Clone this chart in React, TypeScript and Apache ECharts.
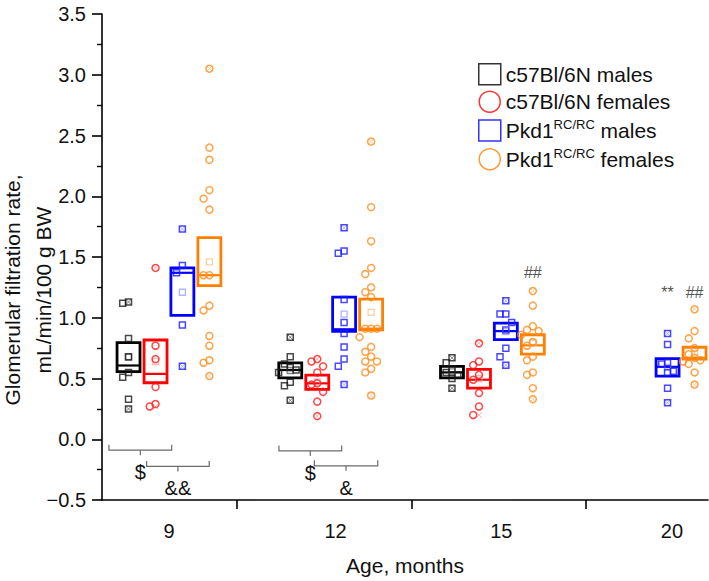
import React, { useEffect, useRef } from 'react';
import * as echarts from 'echarts';

// ---------- data ----------
const ageGroups = ['9', '12', '15', '20'];
const seriesNames = ['c57Bl/6N males', 'c57Bl/6N females', 'Pkd1RC/RC males', 'Pkd1RC/RC females'];

// individual animals, per age group (9, 12, 15, 20 months)
const wtMales = [
  [1.13, 1.12, 0.83, 0.68, 0.55, 0.51, 0.33, 0.25],
  [0.84, 0.68, 0.62, 0.59, 0.57, 0.55, 0.47, 0.44, 0.32],
  [0.67, 0.63, 0.58, 0.55, 0.53, 0.5, 0.42],
  [],
];
const wtFemales = [
  [1.41, 0.77, 0.66, 0.43, 0.29, 0.27],
  [0.66, 0.64, 0.6, 0.55, 0.46, 0.45, 0.39, 0.31, 0.19],
  [0.79, 0.64, 0.61, 0.53, 0.49, 0.38, 0.27, 0.2],
  [],
];
const pkdMales = [
  [1.73, 1.43, 1.37, 0.94, 0.6],
  [1.74, 1.55, 1.53, 1.15, 0.96, 0.87, 0.76, 0.66, 0.6, 0.45],
  [1.14, 1.03, 1.03, 0.96, 0.9, 0.75, 0.68, 0.61],
  [0.87, 0.78, 0.63, 0.62, 0.56, 0.55, 0.42, 0.3],
];
const pkdFemales = [
  [3.05, 2.4, 2.3, 2.05, 1.98, 1.89, 1.35, 1.35, 1.1, 1.06, 0.85, 0.77, 0.65, 0.63, 0.52],
  [2.45, 1.91, 1.63, 1.41, 1.36, 1.25, 1.21, 1.17, 0.91, 0.91, 0.91, 0.84, 0.76, 0.72, 0.68, 0.64, 0.64, 0.58, 0.55, 0.36],
  [1.22, 1.1, 0.93, 0.9, 0.89, 0.86, 0.8, 0.77, 0.68, 0.65, 0.55, 0.53, 0.42, 0.33],
  [1.07, 0.89, 0.83, 0.75, 0.7, 0.67, 0.65, 0.64, 0.62, 0.55, 0.45],
];

// box = mean ± SEM, line = median, faint square = mean
const wtMalesMean = [0.676, 0.566, 0.555, null];
const wtMalesLow = [0.557, 0.505, 0.505, null];
const wtMalesHigh = [0.795, 0.628, 0.6, null];
const wtMalesMedian = [0.607, 0.57, 0.55, null];

const wtFemalesMean = [0.64, 0.47, 0.5, null];
const wtFemalesLow = [0.465, 0.41, 0.42, null];
const wtFemalesHigh = [0.817, 0.527, 0.575, null];
const wtFemalesMedian = [0.538, 0.46, 0.49, null];

const pkdMalesMean = [1.21, 1.03, 0.885, 0.592];
const pkdMalesLow = [1.02, 0.888, 0.82, 0.52];
const pkdMalesHigh = [1.41, 1.17, 0.956, 0.664];
const pkdMalesMedian = [1.37, 0.905, 0.89, 0.596];

const pkdFemalesMean = [1.46, 1.044, 0.79, 0.708];
const pkdFemalesLow = [1.265, 0.9, 0.7, 0.66];
const pkdFemalesHigh = [1.66, 1.153, 0.86, 0.757];
const pkdFemalesMedian = [1.35, 0.91, 0.773, 0.67];

// significance marks above columns: age group, subgroup, y
const markTexts = ['##', '**', '##'];
const markGroup = [2, 3, 3];
const markSub = [3, 2, 3];
const markY = [1.37, 1.205, 1.205];

// brackets below the data: from / to (x index), y, label
const bracketFrom = [-0.371, -0.138, 0.68, 0.899];
const bracketTo = [0.017, 0.249, 1.068, 1.291];
const bracketY = [-0.09, -0.224, -0.096, -0.219];
const bracketLabels = ['$', '&&', '$', '&'];

const yTicks = { min: -0.5, max: 3.5, interval: 0.5 };
const xLabelAt = [0, 1.03, 2.055, 3.11];
const xSeparators = [0.42, 1.5, 2.58];

// ---------- styling ----------
const FONT = '"Liberation Sans", Arial, sans-serif';
const pointColors = ['#1a1a1a', '#ff1a1a', '#1a1aff', '#ff8c1a'];
const boxColors = ['#000000', '#ff0000', '#0000ff', '#ff8000'];
const faintColors = ['#666666', '#ffa0a0', '#a0a0ff', '#ffc38a'];
const subOffsets = [-0.25, -0.083, 0.083, 0.25];
const BOX_W = 0.142;

const allData = [wtMales, wtFemales, pkdMales, pkdFemales];
const allMean = [wtMalesMean, wtFemalesMean, pkdMalesMean, pkdFemalesMean];
const allLow = [wtMalesLow, wtFemalesLow, pkdMalesLow, pkdFemalesLow];
const allHigh = [wtMalesHigh, wtFemalesHigh, pkdMalesHigh, pkdFemalesHigh];
const allMedian = [wtMalesMedian, wtFemalesMedian, pkdMalesMedian, pkdFemalesMedian];

function swarm(values: number[], center: number): number[][] {
  const step = 0.036;
  const thr = 0.075;
  const placed: { v: number; k: number }[] = [];
  const out: number[][] = [];
  const order = values.map((_, i) => i).sort((a, b) => values[b] - values[a]);
  for (const i of order) {
    const v = values[i];
    for (const k of [0, -1, 1, -2, 2, -3, 3, -4, 4]) {
      if (!placed.some((p) => p.k === k && Math.abs(p.v - v) < thr)) {
        placed.push({ v, k });
        out.push([center + k * step, v]);
        break;
      }
    }
  }
  return out;
}

function buildOption() {
  const series: any[] = [];
  for (let s = 0; s < 4; s++) {
    const isSquare = s % 2 === 0;
    const points: number[][] = [];
    const boxes: number[][] = [];
    const means: number[][] = [];
    const extremes: number[][] = [];
    ageGroups.forEach((_, g) => {
      const vals = allData[s][g];
      const cx = g + subOffsets[s];
      if (vals.length) {
        points.push(...swarm(vals, cx));
        extremes.push([cx, Math.min(...vals)], [cx, Math.max(...vals)]);
      }
      const m = allMean[s][g];
      if (m != null) {
        boxes.push([cx, allLow[s][g] as number, allHigh[s][g] as number, allMedian[s][g] as number]);
        means.push([cx, m]);
      }
    });
    series.push({
      type: 'custom',
      name: seriesNames[s] + '_box',
      silent: true,
      z: 2,
      data: boxes,
      renderItem: (params: any, api: any) => {
        const x = api.value(0);
        const tl = api.coord([x - BOX_W / 2, api.value(2)]);
        const br = api.coord([x + BOX_W / 2, api.value(1)]);
        const md = api.coord([x, api.value(3)]);
        return {
          type: 'group',
          children: [
            {
              type: 'rect',
              shape: { x: tl[0], y: tl[1], width: br[0] - tl[0], height: br[1] - tl[1] },
              style: { fill: 'none', stroke: boxColors[s], lineWidth: 2.8 },
            },
            {
              type: 'line',
              shape: { x1: tl[0], y1: md[1], x2: br[0], y2: md[1] },
              style: { stroke: boxColors[s], lineWidth: 2.2 },
            },
          ],
        };
      },
    });
    series.push({
      type: 'scatter',
      name: seriesNames[s] + '_mean',
      silent: true,
      z: 3,
      symbol: 'rect',
      symbolSize: 6,
      itemStyle: { color: 'rgba(0,0,0,0)', borderColor: faintColors[s], borderWidth: 1.3 },
      data: means,
    });
    series.push({
      type: 'scatter',
      name: seriesNames[s] + '_x',
      silent: true,
      z: 3,
      symbol: 'path://M0,0L10,10M10,0L0,10',
      symbolSize: 6,
      itemStyle: { color: 'rgba(0,0,0,0)', borderColor: faintColors[s], borderWidth: 1 },
      data: extremes,
    });
    series.push({
      type: 'scatter',
      name: seriesNames[s],
      z: 4,
      symbol: isSquare ? 'rect' : 'circle',
      symbolSize: isSquare ? 6 : 7,
      itemStyle: { color: 'rgba(0,0,0,0)', borderColor: pointColors[s], borderWidth: 1.5 },
      data: points,
    });
  }

  series.push({
    type: 'scatter',
    name: 'marks',
    silent: true,
    symbolSize: 0,
    z: 5,
    data: markTexts.map((t, i) => [markGroup[i] + subOffsets[markSub[i]], markY[i], i]),
    label: {
      show: true,
      position: 'inside',
      formatter: (p: any) => markTexts[p.value[2]],
      fontSize: 16,
      fontFamily: FONT,
      color: '#222',
    },
  });

  series.push({
    type: 'custom',
    name: 'brackets',
    silent: true,
    z: 5,
    data: bracketLabels.map((_, i) => [bracketFrom[i], bracketTo[i], bracketY[i], i]),
    renderItem: (params: any, api: any) => {
      const p1 = api.coord([api.value(0), api.value(2)]);
      const p2 = api.coord([api.value(1), api.value(2)]);
      const cx = (p1[0] + p2[0]) / 2;
      return {
        type: 'group',
        children: [
          {
            type: 'polyline',
            shape: { points: [[p1[0], p1[1] - 5.5], [p1[0], p1[1]], [p2[0], p2[1]], [p2[0], p2[1] - 5.5]] },
            style: { fill: 'none', stroke: '#6b6b6b', lineWidth: 1.2 },
          },
          {
            type: 'line',
            shape: { x1: cx, y1: p1[1], x2: cx, y2: p1[1] + 5 },
            style: { stroke: '#6b6b6b', lineWidth: 1.2 },
          },
          {
            type: 'text',
            x: cx,
            y: p1[1] + 22,
            style: {
              text: bracketLabels[api.value(3)],
              fontSize: 20,
              fontFamily: FONT,
              fill: '#111',
              align: 'center',
              verticalAlign: 'middle',
            },
          },
        ],
      };
    },
  });

  return {
    animation: false,
    textStyle: { fontFamily: FONT },
    grid: { left: 102, right: 1, top: 14, bottom: 81, outerBoundsMode: 'none', containLabel: false },
    legend: {
      orient: 'vertical',
      left: 473,
      top: 58,
      itemWidth: 22,
      itemHeight: 21,
      itemGap: 5,
      selectedMode: false,
      data: seriesNames.map((n, i) => ({
        name: n,
        icon: i % 2 === 0 ? 'rect' : 'circle',
        itemStyle: { color: 'rgba(0,0,0,0)', borderColor: boxColors[i], borderWidth: 1.5 },
      })),
      formatter: (name: string) =>
        name.startsWith('Pkd1')
          ? `{n|Pkd1}{sup|RC/RC}{n| ${name.split(' ')[1]}}`
          : `{n|${name}}`,
      textStyle: {
        fontSize: 21,
        fontFamily: FONT,
        color: '#111',
        rich: {
          n: { fontSize: 21, fontFamily: FONT, color: '#111' },
          sup: { fontSize: 13, fontFamily: FONT, color: '#111', padding: [0, 0, 12, 0] },
        },
      },
    },
    xAxis: {
      type: 'value',
      min: -0.414,
      max: 3.333,
      name: 'Age, months',
      nameLocation: 'middle',
      nameGap: 55,
      nameMoveOverlap: false,
      nameTextStyle: { fontSize: 21, color: '#111', fontFamily: FONT },
      axisLine: { onZero: false, lineStyle: { color: '#000', width: 1.6 } },
      axisTick: { show: true, inside: false, length: 9, customValues: xSeparators, lineStyle: { color: '#000', width: 1.6 } },
      axisLabel: {
        customValues: xLabelAt,
        formatter: (v: number) => ageGroups[Math.round(v)],
        fontSize: 20,
        margin: 21,
        color: '#111',
        fontFamily: FONT,
      },
      splitLine: { show: false },
    },
    yAxis: {
      type: 'value',
      min: yTicks.min,
      max: yTicks.max,
      interval: yTicks.interval,
      name: 'Glomerular filtration rate,\nmL/min/100 g BW',
      nameLocation: 'middle',
      nameGap: 43,
      nameMoveOverlap: false,
      nameTextStyle: { fontSize: 21, lineHeight: 31, color: '#111', fontFamily: FONT, padding: [0, 66, 0, 0] },
      axisLine: { show: true, onZero: false, lineStyle: { color: '#000', width: 1.6 } },
      axisTick: { show: true, inside: false, length: 10, lineStyle: { color: '#000', width: 1.6 } },
      minorTick: { show: true, splitNumber: 2, length: 5, lineStyle: { color: '#000', width: 1.4 } },
      axisLabel: {
        formatter: (v: number) => (v < 0 ? '\u2212' : '') + Math.abs(v).toFixed(1),
        fontSize: 20,
        margin: 16,
        color: '#111',
        fontFamily: FONT,
      },
      splitLine: { show: false },
    },
    series,
  };
}

export default function App() {
  const ref = useRef<HTMLDivElement>(null);
  useEffect(() => {
    if (!ref.current) return;
    const chart = echarts.init(ref.current, null, { renderer: 'svg' });
    chart.setOption(buildOption() as any);
    return () => chart.dispose();
  }, []);
  return <div ref={ref} style={{ position: 'absolute', left: 0, top: 0, width: 709, height: 581, background: '#fff' }} />;
}
